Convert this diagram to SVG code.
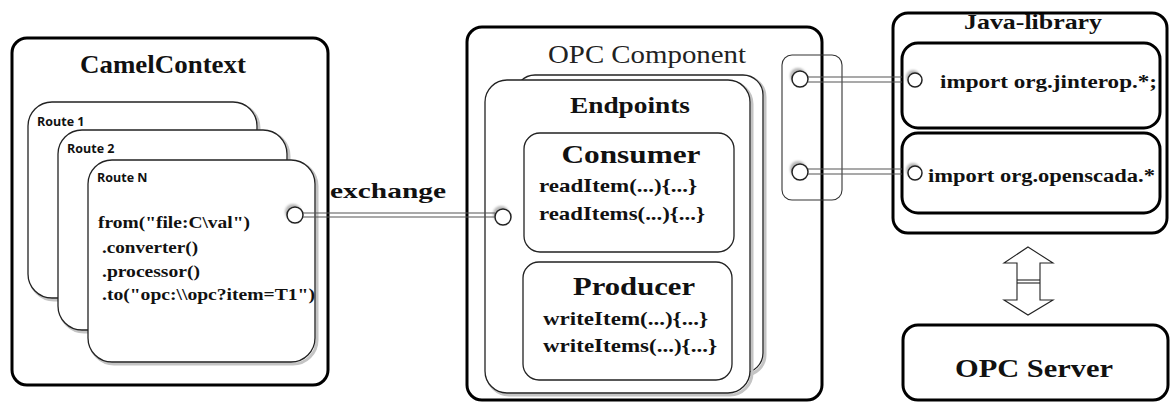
<svg xmlns="http://www.w3.org/2000/svg" width="1170" height="403" viewBox="0 0 1170 403">
  <defs>
    <filter id="soft" x="-50%" y="-50%" width="200%" height="200%">
      <feGaussianBlur stdDeviation="1.2"/>
    </filter>
    <style>
      .frame { fill: #fff; stroke: #000; stroke-width: 3; }
      .box { fill: #fff; stroke: #222; stroke-width: 1.3; }
      .thin { fill: none; stroke: #333; stroke-width: 1.1; }
      .shadow { fill: none; stroke: #c4c4c4; stroke-width: 3; }
      .port { fill: #fff; stroke: #222; stroke-width: 1.5; }
      .portshade { fill: #b8b8b8; filter: url(#soft); }
      .wire { stroke: #555; stroke-width: 1.2; fill: none; }
      .bs { font-family: "Liberation Serif", "DejaVu Serif", "Times New Roman", serif; font-weight: bold; fill: #111; }
      .rs { font-family: "Liberation Serif", "DejaVu Serif", "Times New Roman", serif; fill: #222; }
      .lbl { font-family: "Open Sans", "Liberation Sans", sans-serif; font-weight: bold; font-size: 12.5px; fill: #111; }
    </style>
  </defs>

  <rect width="1170" height="403" fill="#fff"/>

  <!-- Camel context with stacked routes -->
  <g id="camel-context">
    <rect class="frame" x="12" y="38" width="316" height="347" rx="15"/>
    <text class="bs" x="163" y="73" font-size="26" text-anchor="middle" textLength="166" lengthAdjust="spacingAndGlyphs">CamelContext</text>
  </g>
  <g id="route-1">
    <rect class="shadow" x="30" y="104" width="229" height="196" rx="24"/>
    <rect class="box" x="28" y="102" width="229" height="196" rx="24"/>
    <text class="lbl" x="37" y="126">Route 1</text>
  </g>
  <g id="route-2">
    <rect class="shadow" x="60" y="132" width="229" height="200" rx="24"/>
    <rect class="box" x="58" y="130" width="229" height="200" rx="24"/>
    <text class="lbl" x="67" y="153">Route 2</text>
  </g>
  <g id="route-n">
    <rect class="shadow" x="90" y="162" width="227" height="202" rx="24"/>
    <rect class="box" x="88" y="160" width="227" height="202" rx="24"/>
    <text class="lbl" x="97" y="182">Route N</text>
    <g class="bs" font-size="17">
      <text x="98" y="228" textLength="152" lengthAdjust="spacingAndGlyphs">from("file:C\val")</text>
      <text x="102" y="253" textLength="96" lengthAdjust="spacingAndGlyphs">.converter()</text>
      <text x="102" y="277" textLength="98" lengthAdjust="spacingAndGlyphs">.processor()</text>
      <text x="102" y="300" textLength="213" lengthAdjust="spacingAndGlyphs">.to("opc:\\opc?item=T1")</text>
    </g>
    <circle class="portshade" cx="293" cy="212" r="8"/>
    <circle class="port" cx="295" cy="215" r="8"/>
  </g>

  <!-- OPC component with its endpoints -->
  <g id="opc-component">
    <rect class="frame" x="467" y="27" width="355" height="373" rx="15"/>
    <text class="rs" x="548" y="63" font-size="25" textLength="198" lengthAdjust="spacingAndGlyphs">OPC Component</text>
  </g>
  <g id="endpoints">
    <rect class="shadow" x="517" y="77" width="248" height="298" rx="20"/>
    <rect class="box" x="515" y="75" width="248" height="298" rx="20"/>
    <rect class="shadow" x="487" y="82" width="265" height="313" rx="22"/>
    <rect class="box" x="485" y="80" width="265" height="313" rx="22"/>
    <text class="bs" x="630" y="113" font-size="24" text-anchor="middle" textLength="120" lengthAdjust="spacingAndGlyphs">Endpoints</text>
    <circle class="portshade" cx="501" cy="214" r="8"/>
    <circle class="port" cx="503" cy="217" r="8"/>
  </g>
  <g id="consumer">
    <rect class="box" x="524" y="133" width="210" height="119" rx="16"/>
    <text class="bs" x="631" y="163" font-size="26" text-anchor="middle" textLength="139" lengthAdjust="spacingAndGlyphs">Consumer</text>
    <text class="bs" x="539" y="192" font-size="19" textLength="158" lengthAdjust="spacingAndGlyphs">readItem(...){...}</text>
    <text class="bs" x="539" y="220" font-size="19" textLength="166" lengthAdjust="spacingAndGlyphs">readItems(...){...}</text>
  </g>
  <g id="producer">
    <rect class="box" x="523" y="262" width="209" height="118" rx="16"/>
    <text class="bs" x="634" y="295" font-size="26" text-anchor="middle" textLength="122" lengthAdjust="spacingAndGlyphs">Producer</text>
    <text class="bs" x="543" y="325" font-size="19" textLength="165" lengthAdjust="spacingAndGlyphs">writeItem(...){...}</text>
    <text class="bs" x="543" y="352" font-size="19" textLength="174" lengthAdjust="spacingAndGlyphs">writeItems(...){...}</text>
  </g>
  <g id="library-ports">
    <rect class="thin" x="782" y="55" width="60" height="145" rx="10"/>
    <circle class="portshade" cx="798" cy="76" r="8"/>
    <circle class="port" cx="800" cy="79" r="8"/>
    <circle class="portshade" cx="798" cy="169" r="8"/>
    <circle class="port" cx="800" cy="172" r="8"/>
  </g>

  <!-- Java library -->
  <g id="java-library">
    <rect class="frame" x="893" y="13" width="274" height="220" rx="15"/>
    <text class="bs" x="1033" y="29" font-size="21" text-anchor="middle" textLength="138" lengthAdjust="spacingAndGlyphs">Java-library</text>
  </g>
  <g id="import-jinterop">
    <rect class="frame" x="902" y="43" width="258" height="85" rx="16"/>
    <circle class="portshade" cx="913" cy="77" r="7"/>
    <circle class="port" cx="915" cy="80" r="7"/>
    <text class="bs" x="940" y="88" font-size="18" textLength="217" lengthAdjust="spacingAndGlyphs">import org.jinterop.*;</text>
  </g>
  <g id="import-openscada">
    <rect class="frame" x="902" y="133" width="258" height="80" rx="16"/>
    <circle class="portshade" cx="913" cy="170" r="7"/>
    <circle class="port" cx="915" cy="173" r="7"/>
    <text class="bs" x="928" y="182" font-size="18" textLength="227" lengthAdjust="spacingAndGlyphs">import org.openscada.*</text>
  </g>

  <!-- OPC server -->
  <g id="opc-server">
    <rect class="frame" x="903" y="325" width="265" height="75" rx="15"/>
    <text class="bs" x="1034" y="377" font-size="26" text-anchor="middle" textLength="158" lengthAdjust="spacingAndGlyphs">OPC Server</text>
  </g>

  <!-- Connectors -->
  <g id="connectors">
    <g id="exchange-link">
      <line class="wire" x1="303" y1="213" x2="495" y2="213"/>
      <line class="wire" x1="303" y1="217" x2="495" y2="217"/>
      <text class="bs" x="388" y="198" font-size="22" text-anchor="middle" textLength="116" lengthAdjust="spacingAndGlyphs">exchange</text>
    </g>
    <g id="jinterop-link">
      <line class="wire" x1="808" y1="77" x2="902" y2="77"/>
      <line class="wire" x1="808" y1="82" x2="902" y2="82"/>
    </g>
    <g id="openscada-link">
      <line class="wire" x1="808" y1="169" x2="902" y2="169"/>
      <line class="wire" x1="808" y1="174" x2="902" y2="174"/>
    </g>
    <g id="server-link">
      <polygon points="1028,247 1053,263 1040,263 1040,300 1053,300 1028,315 1004,300 1017,300 1017,263 1004,263" fill="#fff" stroke="#222" stroke-width="1.1"/>
      <line x1="1017" y1="280" x2="1040" y2="280" stroke="#222" stroke-width="1.1"/>
      <line x1="1017" y1="283" x2="1040" y2="283" stroke="#222" stroke-width="1.1"/>
    </g>
  </g>
</svg>
